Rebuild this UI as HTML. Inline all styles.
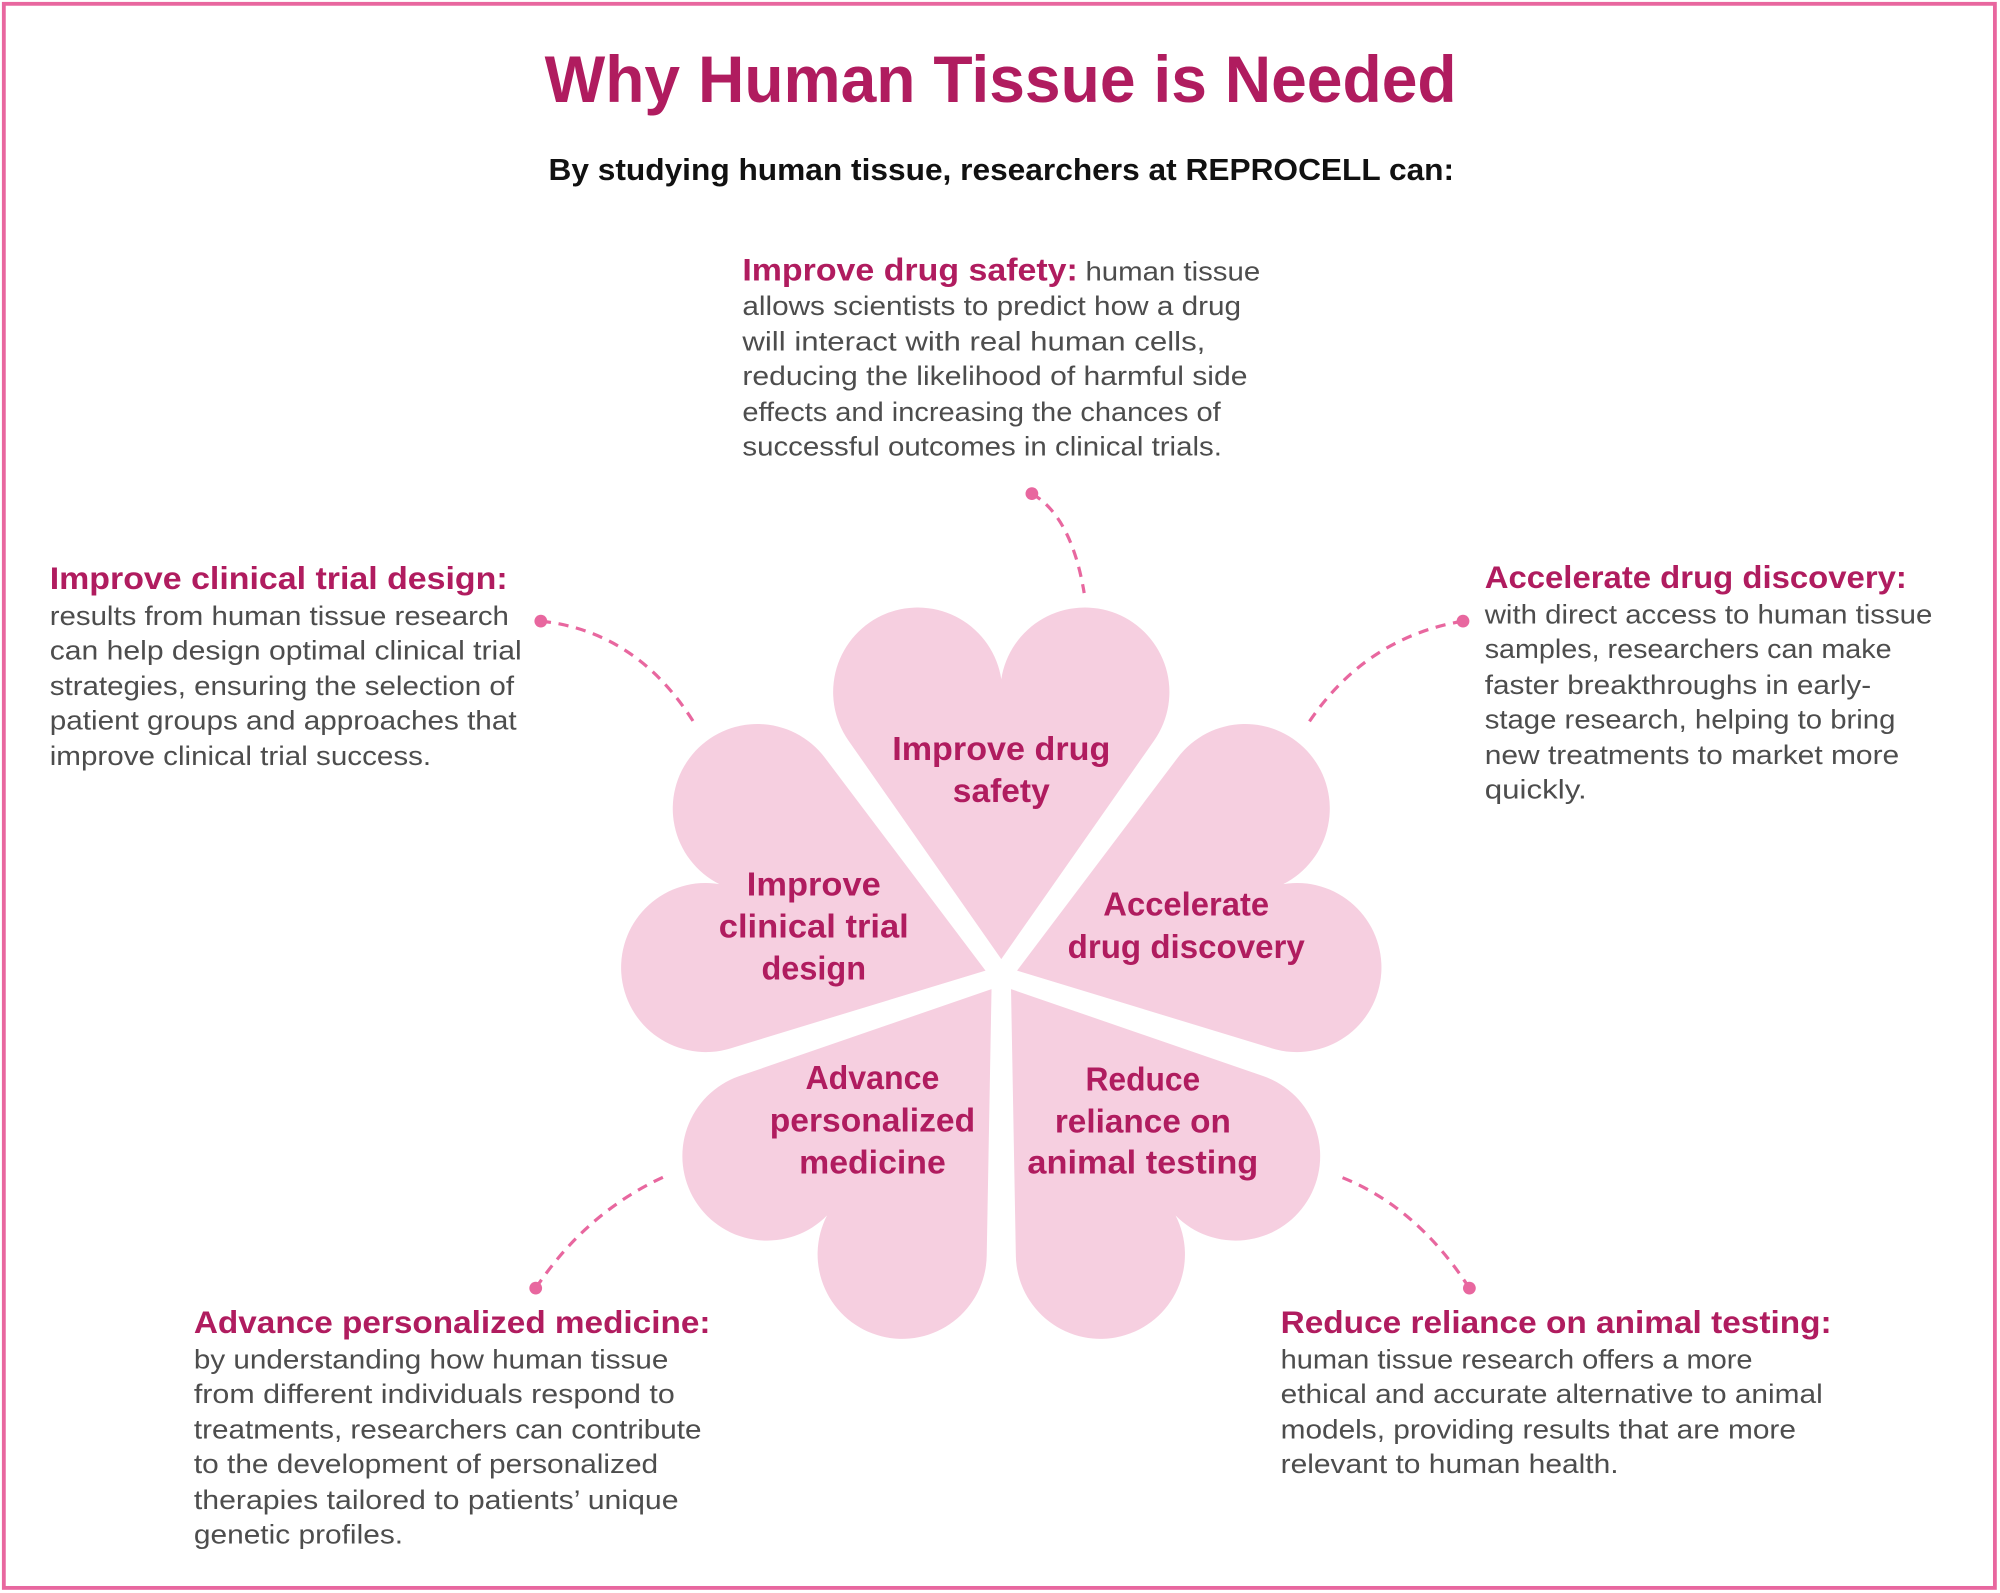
<!DOCTYPE html>
<html><head><meta charset="utf-8"><style>
html,body{margin:0;padding:0;background:#fff;}
svg{display:block;}
.h{font-family:"Liberation Sans",sans-serif;font-weight:bold;fill:#b01c5f;font-size:25px;}
.b{font-family:"Liberation Sans",sans-serif;fill:#4d4d4d;font-size:21px;}
.p{font-family:"Liberation Sans",sans-serif;font-weight:bold;fill:#b01c5f;font-size:26px;text-anchor:middle;}
.c{fill:none;stroke:#e8679f;stroke-width:2.5;stroke-dasharray:8 6;}
</style></head><body>
<svg width="2000" height="1593" viewBox="0 0 1568 1249" preserveAspectRatio="none" xmlns="http://www.w3.org/2000/svg">
<rect x="0" y="0" width="1568" height="1249" fill="#fff"/>
<rect x="3" y="3" width="1561" height="1242" fill="none" stroke="#e8679f" stroke-width="3"/>
<text x="427" y="80" font-family="Liberation Sans,sans-serif" font-weight="bold" font-size="52" fill="#b01c5f" textLength="715" lengthAdjust="spacingAndGlyphs">Why Human Tissue is Needed</text>
<text x="430" y="141" font-family="Liberation Sans,sans-serif" font-weight="bold" font-size="24" fill="#111" textLength="710" lengthAdjust="spacingAndGlyphs">By studying human tissue, researchers at REPROCELL can:</text>

<defs>
<path id="heart" d="M0,0 L-157.4,-225.1 A87,87 0 1 1 0,-288 A87,87 0 1 1 157.4,-225.1 Z" fill="#f6cfe0"/>
</defs>
<g transform="translate(785,765)">
<use href="#heart" transform="rotate(0) translate(0,-13) scale(0.762)"/>
<use href="#heart" transform="rotate(72) translate(0,-13) scale(0.762)"/>
<use href="#heart" transform="rotate(144) translate(0,-13) scale(0.762)"/>
<use href="#heart" transform="rotate(216) translate(0,-13) scale(0.762)"/>
<use href="#heart" transform="rotate(288) translate(0,-13) scale(0.762)"/>
</g>

<text class="p" x="785" y="596" textLength="171" lengthAdjust="spacingAndGlyphs">Improve drug</text>
<text class="p" x="785" y="629" textLength="76" lengthAdjust="spacingAndGlyphs">safety</text>
<text class="p" x="638" y="702" textLength="105" lengthAdjust="spacingAndGlyphs">Improve</text>
<text class="p" x="638" y="735" textLength="149" lengthAdjust="spacingAndGlyphs">clinical trial</text>
<text class="p" x="638" y="768" textLength="82" lengthAdjust="spacingAndGlyphs">design</text>
<text class="p" x="930" y="718" textLength="130" lengthAdjust="spacingAndGlyphs">Accelerate</text>
<text class="p" x="930" y="751" textLength="186" lengthAdjust="spacingAndGlyphs">drug discovery</text>
<text class="p" x="684" y="854" textLength="105" lengthAdjust="spacingAndGlyphs">Advance</text>
<text class="p" x="684" y="887" textLength="161" lengthAdjust="spacingAndGlyphs">personalized</text>
<text class="p" x="684" y="920" textLength="115" lengthAdjust="spacingAndGlyphs">medicine</text>
<text class="p" x="896" y="855" textLength="90" lengthAdjust="spacingAndGlyphs">Reduce</text>
<text class="p" x="896" y="888" textLength="138" lengthAdjust="spacingAndGlyphs">reliance on</text>
<text class="p" x="896" y="920" textLength="181" lengthAdjust="spacingAndGlyphs">animal testing</text>

<path class="c" d="M809,387 Q840,405 850,465"/>
<circle cx="809" cy="387" r="5" fill="#e8679f"/>
<path class="c" d="M424,487 Q500,495 545,568"/>
<circle cx="424" cy="487" r="5" fill="#e8679f"/>
<path class="c" d="M1147,487 Q1070,500 1025,568"/>
<circle cx="1147" cy="487" r="5" fill="#e8679f"/>
<path class="c" d="M420,1010 Q460,950 522,922"/>
<circle cx="420" cy="1010" r="5" fill="#e8679f"/>
<path class="c" d="M1152,1010 Q1110,945 1049,922"/>
<circle cx="1152" cy="1010" r="5" fill="#e8679f"/>

<text class="h" x="582" y="220" textLength="263" lengthAdjust="spacingAndGlyphs">Improve drug safety:</text>
<text class="b" x="851" y="220" textLength="137" lengthAdjust="spacingAndGlyphs">human tissue</text>
<text class="b" x="582" y="247" textLength="391" lengthAdjust="spacingAndGlyphs">allows scientists to predict how a drug</text>
<text class="b" x="582" y="275" textLength="363" lengthAdjust="spacingAndGlyphs">will interact with real human cells,</text>
<text class="b" x="582" y="302" textLength="396" lengthAdjust="spacingAndGlyphs">reducing the likelihood of harmful side</text>
<text class="b" x="582" y="330" textLength="375" lengthAdjust="spacingAndGlyphs">effects and increasing the chances of</text>
<text class="b" x="582" y="357" textLength="376" lengthAdjust="spacingAndGlyphs">successful outcomes in clinical trials.</text>

<text class="h" x="39" y="462" textLength="359" lengthAdjust="spacingAndGlyphs">Improve clinical trial design:</text>
<text class="b" x="39" y="490" textLength="360" lengthAdjust="spacingAndGlyphs">results from human tissue research</text>
<text class="b" x="39" y="517" textLength="370" lengthAdjust="spacingAndGlyphs">can help design optimal clinical trial</text>
<text class="b" x="39" y="545" textLength="364" lengthAdjust="spacingAndGlyphs">strategies, ensuring the selection of</text>
<text class="b" x="39" y="572" textLength="366" lengthAdjust="spacingAndGlyphs">patient groups and approaches that</text>
<text class="b" x="39" y="600" textLength="299" lengthAdjust="spacingAndGlyphs">improve clinical trial success.</text>

<text class="h" x="1164" y="461" textLength="331" lengthAdjust="spacingAndGlyphs">Accelerate drug discovery:</text>
<text class="b" x="1164" y="489" textLength="351" lengthAdjust="spacingAndGlyphs">with direct access to human tissue</text>
<text class="b" x="1164" y="516" textLength="319" lengthAdjust="spacingAndGlyphs">samples, researchers can make</text>
<text class="b" x="1164" y="544" textLength="303" lengthAdjust="spacingAndGlyphs">faster breakthroughs in early-</text>
<text class="b" x="1164" y="571" textLength="322" lengthAdjust="spacingAndGlyphs">stage research, helping to bring</text>
<text class="b" x="1164" y="599" textLength="325" lengthAdjust="spacingAndGlyphs">new treatments to market more</text>
<text class="b" x="1164" y="626" textLength="80" lengthAdjust="spacingAndGlyphs">quickly.</text>

<text class="h" x="152" y="1045" textLength="405" lengthAdjust="spacingAndGlyphs">Advance personalized medicine:</text>
<text class="b" x="152" y="1073" textLength="372" lengthAdjust="spacingAndGlyphs">by understanding how human tissue</text>
<text class="b" x="152" y="1100" textLength="377" lengthAdjust="spacingAndGlyphs">from different individuals respond to</text>
<text class="b" x="152" y="1128" textLength="398" lengthAdjust="spacingAndGlyphs">treatments, researchers can contribute</text>
<text class="b" x="152" y="1155" textLength="364" lengthAdjust="spacingAndGlyphs">to the development of personalized</text>
<text class="b" x="152" y="1183" textLength="380" lengthAdjust="spacingAndGlyphs">therapies tailored to patients’ unique</text>
<text class="b" x="152" y="1210" textLength="164" lengthAdjust="spacingAndGlyphs">genetic profiles.</text>

<text class="h" x="1004" y="1045" textLength="432" lengthAdjust="spacingAndGlyphs">Reduce reliance on animal testing:</text>
<text class="b" x="1004" y="1073" textLength="370" lengthAdjust="spacingAndGlyphs">human tissue research offers a more</text>
<text class="b" x="1004" y="1100" textLength="425" lengthAdjust="spacingAndGlyphs">ethical and accurate alternative to animal</text>
<text class="b" x="1004" y="1128" textLength="404" lengthAdjust="spacingAndGlyphs">models, providing results that are more</text>
<text class="b" x="1004" y="1155" textLength="265" lengthAdjust="spacingAndGlyphs">relevant to human health.</text>
</svg>
</body></html>
